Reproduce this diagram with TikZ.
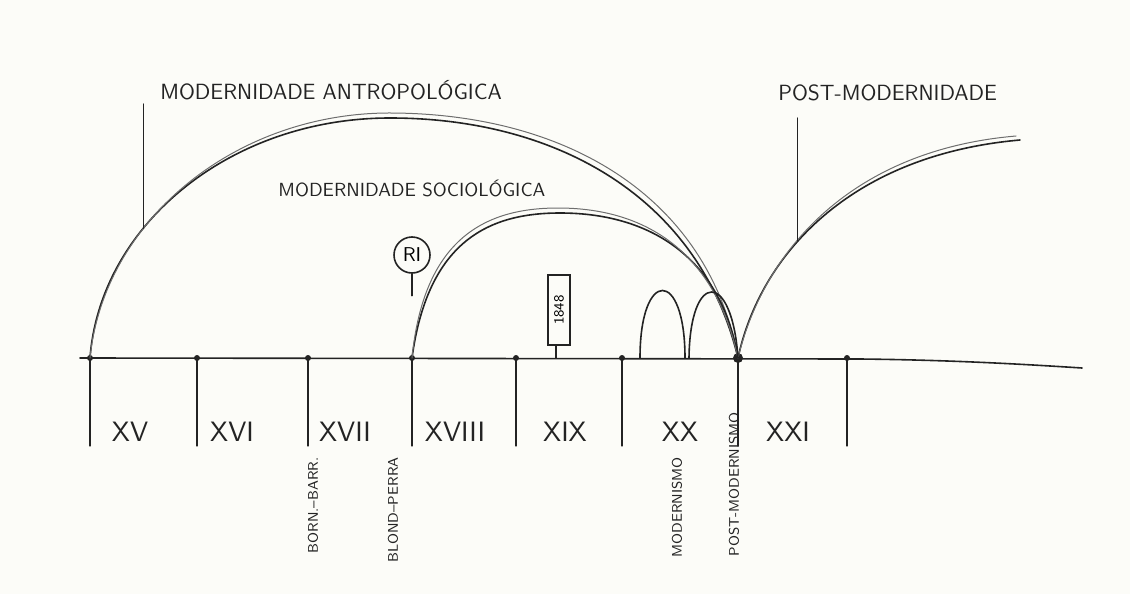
\documentclass[tikz,border=0pt]{standalone}
\usepackage{tikz}
\usetikzlibrary{calc,arrows.meta}
\definecolor{paper}{RGB}{252,252,248}
\definecolor{ink}{RGB}{35,35,35}
\definecolor{pencil}{RGB}{110,110,110}

\begin{document}
\begin{tikzpicture}[x=0.5pt, y=-0.5pt, >=Stealth,
    stroke/.style={line width=0.8pt, ink, line cap=round},
    ghost/.style={line width=0.5pt, pencil, line cap=round},
    hand/.style={text=ink, inner sep=1pt, font=\sffamily\fontsize{11}{13}\selectfont},
    century/.style={hand, font=\sffamily\fontsize{14}{16}\selectfont},
    tag/.style={hand, rotate=90, anchor=east, font=\sffamily\fontsize{7}{8}\selectfont}]
    \fill[paper] (0,0) rectangle (1130,594);
    \useasboundingbox (0,0) rectangle (1130,594);

    % Time axis
    \coordinate (start) at (80,358);
    \coordinate (bend) at (860,359);
    \coordinate (end) at (1082,368);
    \draw[stroke] (start) -- (bend) .. controls (950,360) and (1020,364) .. (end);

    % Centuries
    \foreach \x [count=\i] in {90,197,308,412,516,622,738,847} {
        \coordinate (t\i) at (\x,358);
        \draw[stroke, line width=0.6pt] (t\i) -- ++(0,88);
        \fill[ink] (t\i) circle (3);
    }
    \fill[ink] (t7) circle (5);
    \foreach \name/\x in {XV/130, XVI/232, XVII/345, XVIII/455, XIX/565, XX/680, XXI/788}
        \node[century] (c\name) at (\x,432) {\name};

    % Modernidade antropologica
    \draw[stroke] (t1) .. controls (100,225) and (230,118) .. coordinate[pos=0.36] (antro) (390,118)
        .. controls (560,118) and (700,200) .. (t7);
    \draw[ghost] (t1) .. controls (104,220) and (236,112) .. (392,113)
        .. controls (566,114) and (708,196) .. (t7);
    \node[hand, anchor=west] (antrop) at (158,90) {MODERNIDADE ANTROPOLÓGICA};
    \draw[stroke, line width=0.6pt] (antro) -- (antro |- 0,104);

    % Modernidade sociologica
    \draw[stroke] (t4) .. controls (428,240) and (490,213) .. (560,213)
        .. controls (655,213) and (722,262) .. (t7);
    \draw[ghost] (t4) .. controls (424,236) and (488,208) .. (558,208)
        .. controls (652,208) and (716,258) .. (t7);
    \node[hand, anchor=west, font=\sffamily\fontsize{9.5}{11}\selectfont] (socio) at (276,188) {MODERNIDADE SOCIOLÓGICA};

    % Post-modernidade
    \coordinate (postend) at (1020,140);
    \draw[stroke] (t7) .. controls (760,255) and (850,155) .. coordinate[pos=0.4] (post) (postend);
    \draw[ghost] (t7) .. controls (764,250) and (852,150) .. (1016,136);
    \node[hand, anchor=west] (postmod) at (776,93) {POST-MODERNIDADE};
    \draw[stroke, line width=0.6pt] (post) -- (post |- 0,118);

    % Modernismo / post-modernismo
    \coordinate (m1) at (640,358);
    \coordinate (m2) at (685,358);
    \coordinate (m3) at (689,358);
    \draw[stroke] (m1) .. controls (640,268) and (685,268) .. (m2);
    \draw[stroke] (m3) .. controls (690,270) and (732,270) .. (t7);

    % Revolucao industrial and 1848
    \node[draw=ink, circle, line width=0.8pt, minimum size=18pt, inner sep=0pt,
        font=\sffamily\fontsize{10}{12}\selectfont] (ri) at (412,255) {RI};
    \draw[stroke, line width=0.6pt] (ri.south) -- ++(0,22);
    \node[draw=ink, rotate=90, line width=0.6pt, minimum width=35pt, minimum height=11pt,
        inner sep=1pt, font=\sffamily\fontsize{7}{8}\selectfont] (y1848) at (559,310) {1848};
    \coordinate (foot1848) at (556,358);
    \draw[stroke, line width=0.6pt] (y1848.west -| foot1848) -- (foot1848);

    % Authors and movements
    \node[tag] (borr) at (313,455) {BORN.--BARR.};
    \node[tag] (blond) at (393,455) {BLOND--PERRA};
    \node[tag] (modism) at (677,455) {MODERNISMO};
    \node[tag] (postism) at (734,410) {POST-MODERNISMO};
\end{tikzpicture}
\end{document}
